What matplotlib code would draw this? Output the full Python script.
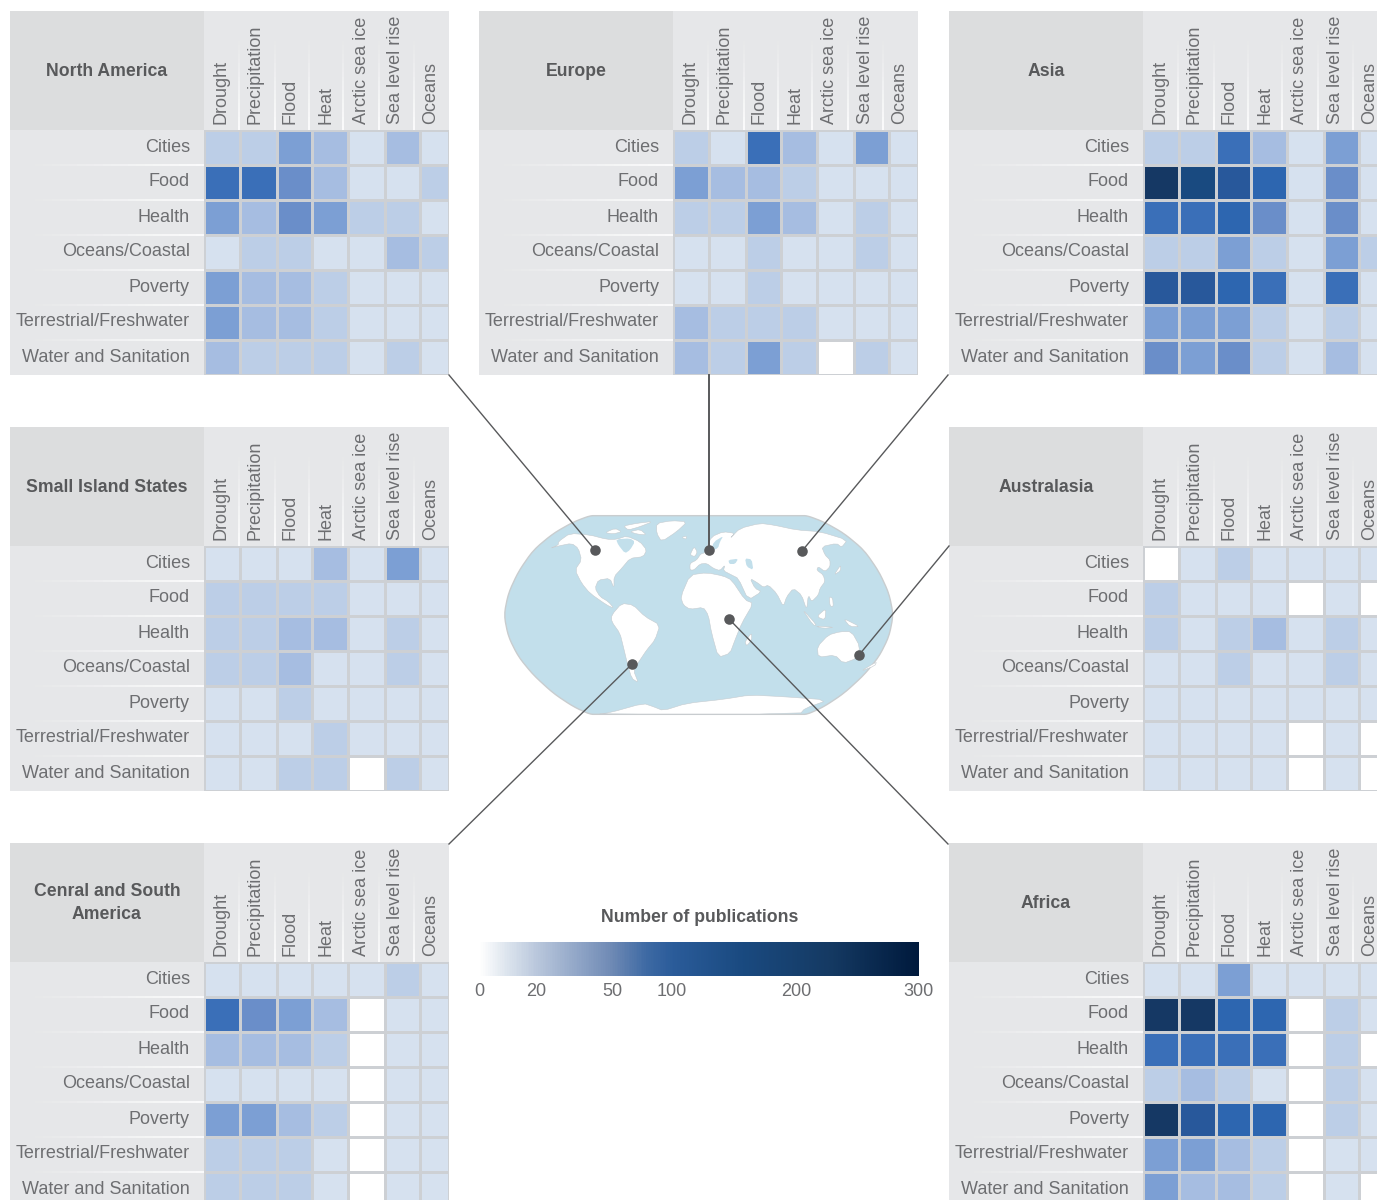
import numpy as np
import matplotlib
matplotlib.use("Agg")
import matplotlib.pyplot as plt
from matplotlib.colors import ListedColormap, BoundaryNorm, LinearSegmentedColormap
from matplotlib.patches import Rectangle, Polygon
from matplotlib.collections import LineCollection

plt.rcParams['font.family'] = ['Liberation Sans', 'DejaVu Sans']

W, H = 1377, 1200
drivers = ["Drought", "Precipitation", "Flood", "Heat", "Arctic sea ice", "Sea level rise", "Oceans"]
sectors = ["Cities", "Food", "Health", "Oceans/Coastal", "Poverty", "Terrestrial/Freshwater", "Water and Sanitation"]

north_america = [[15,15,40,25,5,25,5],[70,70,45,25,5,5,15],[40,25,50,40,15,15,5],[5,15,15,5,5,25,15],
                 [40,25,25,15,5,5,5],[40,25,25,15,5,5,5],[25,15,15,15,5,15,5]]
europe = [[15,5,70,25,5,40,5],[40,25,25,15,5,5,5],[15,15,40,25,5,15,5],[5,5,15,5,5,15,5],
          [5,5,15,5,5,5,5],[25,15,15,15,5,5,5],[25,15,40,15,0,15,5]]
asia = [[15,15,70,25,5,40,5],[180,130,100,80,5,50,5],[70,70,80,50,5,50,5],[15,15,40,15,5,40,15],
        [100,100,80,70,5,70,5],[40,40,40,15,5,15,5],[50,40,50,15,5,25,5]]
small_islands = [[5,5,5,25,5,40,5],[15,15,15,15,5,5,5],[15,15,25,25,5,15,5],[15,15,25,5,5,15,5],
                 [5,5,15,5,5,5,5],[5,5,5,15,5,5,5],[5,5,15,15,0,15,5]]
australasia = [[0,5,15,5,5,5,5],[15,5,5,5,0,5,0],[15,5,15,25,5,15,5],[5,5,15,5,5,15,5],
               [5,5,5,5,5,5,5],[5,5,5,5,0,5,0],[5,5,5,5,0,5,0]]
central_south = [[5,5,5,5,5,15,5],[70,50,40,25,0,5,5],[25,25,25,15,0,5,5],[5,5,5,5,0,5,5],
                 [40,40,25,15,0,5,5],[15,15,15,5,0,5,5],[15,15,15,5,0,5,5]]
africa = [[5,5,40,5,5,5,5],[180,180,80,80,0,15,5],[70,70,70,70,0,15,0],[15,25,15,5,0,15,5],
          [180,100,80,80,0,15,5],[40,40,25,15,0,5,5],[40,25,25,15,0,5,0]]

cbar_ticks = [0, 20, 50, 100, 200, 300]
cbar_tick_frac = [0.0, 0.130, 0.303, 0.440, 0.723, 1.0]

bounds = [0, 1, 10, 20, 30, 45, 60, 75, 90, 110, 150, 300]
cell_colors = ['#ffffff', '#d6e1ef', '#bccee7', '#a6bde1', '#7c9fd4', '#6a8ec9',
               '#3a6fb8', '#2d66b0', '#28589b', '#194a80', '#153864']
cmap = ListedColormap(cell_colors)
norm = BoundaryNorm(bounds, cmap.N)
cbar_cmap = LinearSegmentedColormap.from_list('pubs', [
    (0.0, '#ffffff'), (0.06, '#dde5ee'), (0.13, '#b9c7dc'), (0.22, '#92a7c8'), (0.30, '#6f8ab5'),
    (0.38, '#3e6aa4'), (0.44, '#2b5c9a'), (0.60, '#1a4a80'), (0.80, '#153a63'), (1.0, '#001a3d')])

TXT = '#6d6e71'
TITLE = '#58595b'
LINE = '#58595b'
fs = 13.0
tfs = 12.7
col_edges = np.array([0, 36, 73, 108, 144, 181, 216, 245])
col_seps = [35, 71, 105, 139, 175, 210]
col_label_x = [17, 51, 86, 122, 157, 192, 227]

fig = plt.figure(figsize=(W/100, H/100), dpi=100, facecolor='white')
bg = fig.add_axes([0, 0, 1, 1], zorder=0)
bg.set_xlim(0, W); bg.set_ylim(H, 0); bg.axis('off')


def fade(ax, x0, y0, x1, y1, n=20, lw=1.2):
    xs = np.linspace(x0, x1, n+1); ys = np.linspace(y0, y1, n+1)
    segs = [[(xs[i], ys[i]), (xs[i+1], ys[i+1])] for i in range(n)]
    cols = [(1, 1, 1, (i+1)/n) for i in range(n)]
    ax.add_collection(LineCollection(segs, colors=cols, linewidths=lw))


def panel(x, y, title, values):
    bg.add_patch(Rectangle((x, y), 439, 364, fc='#e6e7e9', ec='none'))
    bg.add_patch(Rectangle((x, y), 194, 119, fc='#dcddde', ec='none'))
    bg.text(x+97, y+60, title, ha='center', va='center', fontsize=tfs, fontweight='bold',
            color=TITLE, linespacing=1.5)
    for s in col_seps:
        fade(bg, x+194+s, y+30, x+194+s, y+119)
    for i, s in enumerate(sectors):
        if i:
            fade(bg, x+25, y+119+35*i, x+194, y+119+35*i)
        bg.text(x+180, y+119+35*i+17, s, ha='right', va='center', fontsize=fs, color=TXT)
    for lx, d in zip(col_label_x, drivers):
        bg.text(x+194+lx, y+113, d, ha='center', va='bottom', rotation=90,
                fontsize=fs, color=TXT)
    ax = fig.add_axes([(x+194)/W, 1-(y+119+245)/H, 245/W, 245/H], zorder=1)
    ax.pcolormesh(col_edges, np.arange(8), np.array(values), cmap=cmap, norm=norm,
                  edgecolors='#cdd0d4', linewidth=0.8)
    ax.set_xlim(0, 245); ax.set_ylim(7, 0); ax.axis('off')


panel(10, 11, "North America", north_america)
panel(479, 11, "Europe", europe)
panel(949, 11, "Asia", asia)
panel(10, 427, "Small Island States", small_islands)
panel(949, 427, "Australasia", australasia)
panel(10, 843, "Cenral and South\nAmerica", central_south)
panel(949, 843, "Africa", africa)


def smooth(pts, n=1):
    p = np.array(pts, float)
    for _ in range(n):
        q = np.roll(p, -1, axis=0)
        p = np.column_stack([0.8*p + 0.2*q, 0.2*p + 0.8*q]).reshape(-1, 2)
    return p


# world map, traced schematically (map space = 3x zoom of 420x230 region at 490,500)
SEA = '#c2dfeb'
m = fig.add_axes([490/W, 1-730/H, 420/W, 230/H], zorder=2)
m.set_xlim(0, 1260); m.set_ylim(690, 0); m.axis('off')
ocean_half = [(325,47),(300,47),(250,66),(190,100),(130,150),(85,215),(55,280),(42,345),(55,410),(85,470),
              (130,525),(190,580),(250,620),(300,643),(325,643)]
ocean = ocean_half + [(1252-px, py) for px, py in ocean_half[::-1]]
m.add_patch(Polygon(smooth(ocean, 2), closed=True, fc=SEA, ec='#c9cdcf', lw=1))
land = [
 # North America
 [(180,145),(205,135),(205,125),(240,100),(300,105),(350,118),(380,118),(410,108),(450,125),(470,150),
  (460,170),(420,175),(395,205),(372,230),(372,265),(360,235),(325,240),(315,265),(330,290),(355,305),
  (372,325),(350,315),(300,280),(275,250),(255,210),(275,180),(265,145),(245,130),(205,138)],
 # Arctic islands
 [(345,98),(375,85),(395,95),(370,102)], [(400,78),(440,70),(490,64),(450,80),(415,90)],
 [(420,95),(450,88),(470,105),(440,102)],
 # Greenland
 [(500,70),(545,62),(592,65),(560,95),(515,125),(500,100)],
 # South America
 [(365,345),(395,310),(430,315),(465,350),(510,375),(495,420),(470,450),(450,480),(430,510),(445,548),
  (425,535),(412,490),(400,440),(390,400),(365,365)],
 # Africa
 [(572,290),(600,225),(650,218),(700,228),(725,240),(765,300),(790,310),(755,370),(735,420),
  (720,460),(685,472),(665,400),(655,345),(640,322),(600,328),(580,315)],
 [(785,398),(785,420),(770,438),(765,425)],
 # Eurasia
 [(600,210),(600,190),(620,180),(632,162),(645,158),(650,142),(665,110),(700,95),(735,100),(720,115),
  (750,85),(810,70),(850,75),(920,90),(990,95),(1072,120),(1055,142),(1040,130),(995,140),(1005,165),
  (1020,180),(1020,200),(1005,215),(985,200),(980,210),(1000,225),(1005,245),(990,265),(985,285),(965,305),
  (955,285),(950,330),(935,285),(910,265),(890,290),(880,320),(860,280),(835,255),(820,262),(805,250),
  (780,235),(795,265),(815,275),(775,300),(745,235),(725,225),(700,212),(705,195),(690,212),(670,205),
  (650,190),(630,192),(612,210)],
 # British Isles, Iceland
 [(600,165),(612,140),(622,155),(615,170)], [(575,112),(590,108),(588,118)],
 # Japan, Philippines
 [(1032,225),(1052,195),(1052,212)], [(1018,290),(1028,295),(1030,320),(1020,318)],
 # Australia
 [(982,440),(1015,405),(1050,395),(1085,395),(1110,440),(1100,475),(1060,490),(1035,465),(985,472)],
 # Indonesia, New Guinea, New Zealand
 [(980,350),(1008,325),(1005,360)], [(935,325),(980,375),(970,376)], [(975,378),(1035,382),(1000,385)],
 [(1060,355),(1110,380),(1080,380)], [(1110,515),(1160,485),(1155,497)],
 # Antarctica
 [(360,638),(460,610),(490,620),(520,632),(590,610),(700,598),(780,585),(880,590),(1015,600),(945,625),
  (930,642),(322,642)],
]
for poly in land:
    m.add_patch(Polygon(smooth(poly), closed=True, fc='white', ec='#c6ccd0', lw=0.4))
for poly in [[(378,118),(420,115),(435,125),(420,150),(405,160),(385,135)],
             [(765,175),(785,178),(790,210),(770,200)], [(715,180),(745,176),(735,192),(718,192)],
             [(672,125),(700,108),(690,125),(684,145),(662,152)]]:
    m.add_patch(Polygon(smooth(poly), closed=True, fc=SEA, ec='none'))

# leader lines and dots
over = fig.add_axes([0, 0, 1, 1], zorder=3)
over.set_xlim(0, W); over.set_ylim(H, 0); over.axis('off'); over.patch.set_alpha(0)
leaders = [((449,375),(595,550)), ((709,375),(709,550)), ((948,375),(802,551)),
           ((949,546),(859,655)), ((948,844),(729,619)), ((449,844),(632,664))]
for a, b in leaders:
    over.plot([a[0], b[0]], [a[1], b[1]], color=LINE, lw=1.4 if a[0] == b[0] else 1.0)
    over.plot([b[0]], [b[1]], 'o', ms=7.6, color=LINE, mec='none')

# colour bar
c = fig.add_axes([479/W, 1-976/H, 439/W, 34/H], zorder=2)
grad = np.linspace(0, 1, 440).reshape(1, -1)
c.imshow(grad, cmap=cbar_cmap, aspect='auto', extent=[0, 1, 0, 1])
c.axis('off')
bg.text(700, 917, "Number of publications", ha='center', va='center', fontsize=tfs, fontweight='bold', color=TITLE)
for t, f in zip(cbar_ticks, cbar_tick_frac):
    bg.text(479+439*f, 991, str(t), ha='center', va='center', fontsize=fs, color=TXT)

fig.savefig('out.png', dpi=100, facecolor='white')
